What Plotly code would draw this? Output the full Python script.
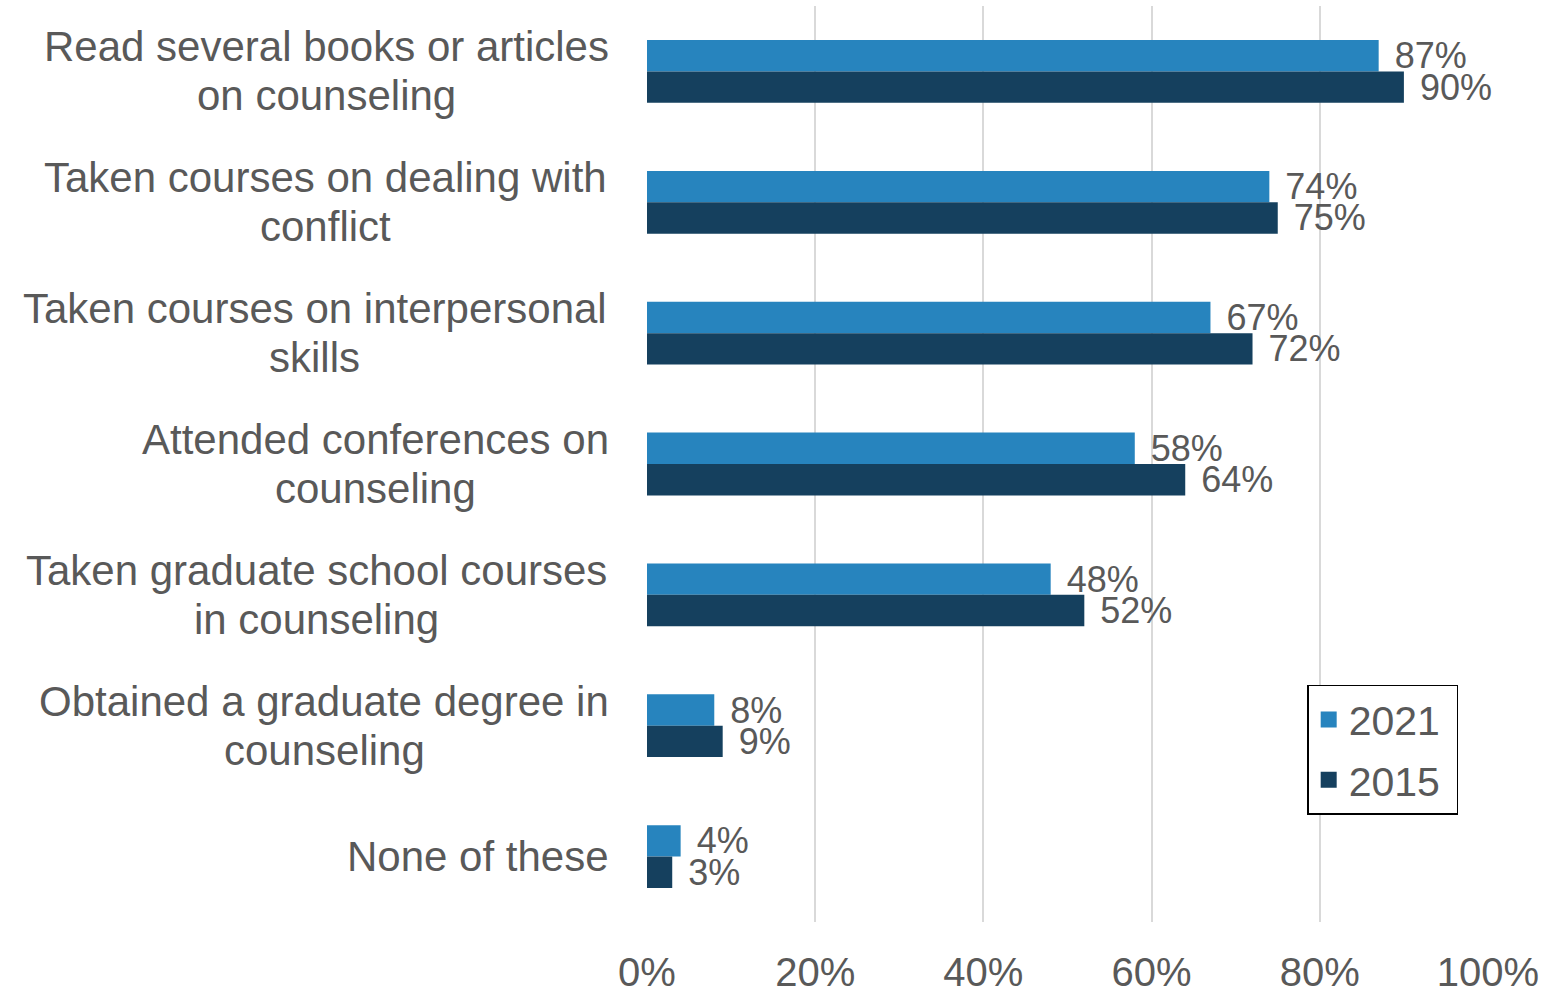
import plotly.graph_objects as go

categories = [
    "Read several books or articles<br>on counseling",
    "Taken courses on dealing with<br>conflict",
    "Taken courses on interpersonal<br>skills",
    "Attended conferences on<br>counseling",
    "Taken graduate school courses<br>in counseling",
    "Obtained a graduate degree in<br>counseling",
    "None of these",
]
values_2021 = [87, 74, 67, 58, 48, 8, 4]
values_2015 = [90, 75, 72, 64, 52, 9, 3]
tick_vals = [0, 20, 40, 60, 80, 100]
tick_text = ["0%", "20%", "40%", "60%", "80%", "100%"]

C2021 = "#2784BE"
C2015 = "#15405E"
GRAY = "#595959"
FONT = "Liberation Sans, Arial, sans-serif"
LABEL_SIZE = 42

# Arial / Liberation Sans advance widths (per 1000 em) for label layout
_W = {" ": 278, "a": 556, "b": 556, "c": 500, "d": 556, "e": 556, "f": 278,
      "g": 556, "h": 556, "i": 222, "j": 222, "k": 500, "l": 222, "m": 833,
      "n": 556, "o": 556, "p": 556, "q": 556, "r": 333, "s": 500, "t": 278,
      "u": 556, "v": 500, "w": 722, "x": 500, "y": 500, "z": 500,
      "A": 667, "N": 722, "O": 778, "R": 722, "T": 611}


def text_width(s, size):
    return sum(_W.get(ch, 556) for ch in s) / 1000 * size


fig = go.Figure()
series = [("2021", values_2021, C2021), ("2015", values_2015, C2015)]
for name, vals, col in series:
    fig.add_trace(go.Bar(
        name=name, y=categories, x=vals, orientation="h",
        marker=dict(color=col, line=dict(width=0)),
        text=[f"\u00a0\u200a{v}%" for v in vals], textposition="outside",
        textfont=dict(size=36, color=GRAY, family=FONT),
        constraintext="none", cliponaxis=False, showlegend=False,
    ))
# legend entries with larger square swatches
for name, vals, col in series:
    fig.add_trace(go.Scatter(
        name=name + "\u00a0", x=[None], y=[None], mode="markers",
        marker=dict(symbol="square", size=22, color=col),
        legendgroup=name, showlegend=True, hoverinfo="skip",
    ))

LINE_GAP = 49
RIGHT_GAP = 38
for c in categories:
    lines = c.split("<br>")
    n = len(lines)
    maxw = max(text_width(ln, LABEL_SIZE) for ln in lines)
    for i, ln in enumerate(lines):
        fig.add_annotation(
            x=0, xref="paper", y=c, yref="y", text=ln, showarrow=False,
            xanchor="center", yanchor="middle",
            xshift=-RIGHT_GAP - maxw / 2, yshift=((n - 1) / 2 - i) * LINE_GAP,
            font=dict(size=LABEL_SIZE, color=GRAY, family=FONT),
        )

fig.update_layout(
    width=1552, height=992,
    margin=dict(l=647, r=64, t=6, b=70, autoexpand=False),
    barmode="group", bargap=0.52, bargroupgap=0,
    plot_bgcolor="white", paper_bgcolor="white",
    font=dict(family=FONT, color=GRAY),
    legend=dict(
        x=0.785, y=0.259, xanchor="left", yanchor="top",
        bgcolor="white", bordercolor="black", borderwidth=1.5,
        font=dict(size=41, color=GRAY, family=FONT),
        traceorder="grouped", tracegroupgap=4, itemsizing="trace",
    ),
    xaxis=dict(
        range=[0, 100], tickvals=tick_vals, ticktext=tick_text,
        showgrid=True, gridcolor="#D9D9D9", gridwidth=2,
        zeroline=False, showline=False,
        tickfont=dict(size=40, color=GRAY, family=FONT),
        ticklabelstandoff=23,
    ),
    yaxis=dict(
        autorange="reversed", showticklabels=False, showgrid=False,
        zeroline=False, showline=False,
    ),
)

fig.write_html(
    "out.html",
    config={"displayModeBar": False},
    post_script="document.body.style.margin='0';document.body.style.overflow='hidden';",
)
